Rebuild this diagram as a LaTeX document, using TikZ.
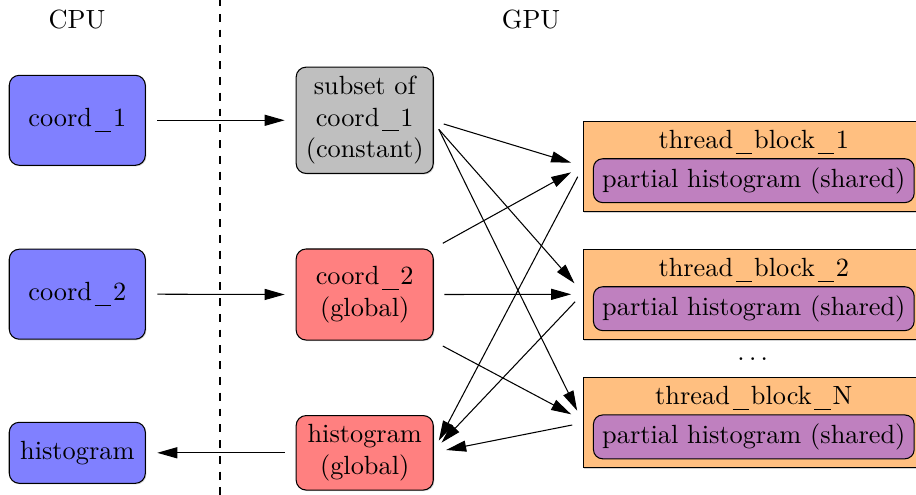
\documentclass[tikz,border=0pt]{standalone}
\usepackage{fontspec}
\usetikzlibrary{arrows.meta,calc,shadows}
\newcommand\us{\kern1pt\rule[-1.9pt]{6.3pt}{0.4pt}\kern0.7pt}
\begin{document}
\begin{tikzpicture}[x=0.38pt,y=-0.38pt,
  box/.style={draw, rounded corners=3.8pt, align=center, inner sep=3.33pt,
    drop shadow={shadow xshift=0.4pt, shadow yshift=-0.4pt, opacity=0.35}},
  cpubox/.style={box, fill=blue!50, minimum width=51.7pt},
  gpubox/.style={box, minimum width=52.1pt},
  tbbox/.style={draw, fill=orange!50, minimum width=129.6pt, minimum height=34.2pt,
    drop shadow={shadow xshift=0.4pt, shadow yshift=-0.5pt, opacity=0.35}},
  shbox/.style={draw, fill=violet!50, rounded corners=3.5pt, inner sep=3.33pt},
  conn/.style={-{Triangle[length=7.6pt,width=4.2pt]}},
  lbl/.style={inner sep=0pt}
]
\useasboundingbox (0,0) rectangle (916,494);

% headings and separator
\node[lbl] (cpu) at (77,19.5) {CPU};
\node[lbl] (gpu) at (531,19.5) {GPU};
\coordinate (dtop) at (220,-2);
\coordinate (dbot) at (220,496);
\draw[dashed] (dtop) -- (dbot);

% CPU side
\node[cpubox, minimum height=34.2pt] (c1) at (77.3,120.3) {coord\us1};
\node[cpubox, minimum height=34.2pt] (c2) at (77.3,294.2) {coord\us2};
\node[cpubox, minimum height=23.2pt] (c3) at (77.3,452.8) {histogram};

% GPU memory
\node[gpubox, fill=black!25, minimum height=40.4pt] (g1) at (364.7,120.3) {subset of\\coord\us1\\(constant)};
\node[gpubox, fill=red!50, minimum height=34.6pt] (g2) at (364.7,294.5) {coord\us2\\(global)};
\node[gpubox, fill=red!50, minimum height=28.3pt] (g3) at (364.7,452.8) {histogram\\(global)};

% thread blocks
\node[tbbox] (t1) at (753.8,166.3) {};
\node[lbl, anchor=base] (t1t) at ($(t1.north)+(0,28)$) {thread\us block\us1};
\node[shbox, anchor=south] (p1) at ($(t1.south)+(0,-8.7)$) {partial histogram (shared)};

\node[tbbox] (t2) at (753.8,294.3) {};
\node[lbl, anchor=base] (t2t) at ($(t2.north)+(0,28)$) {thread\us block\us2};
\node[shbox, anchor=south] (p2) at ($(t2.south)+(0,-8.7)$) {partial histogram (shared)};

\node[lbl, anchor=base] (dots) at (752.7,360.5) {$\dots$};

\node[tbbox] (tN) at (753.8,422.5) {};
\node[lbl, anchor=base] (tNt) at ($(tN.north)+(0,28)$) {thread\us block\us N};
\node[shbox, anchor=south] (pN) at ($(tN.south)+(0,-8.7)$) {partial histogram (shared)};

% transfers
\draw[conn] ($(c1.east)+(11.4,0)$) -- ($(g1.west)+(-11,0)$);
\draw[conn] ($(c2.east)+(11.4,0)$) -- ($(g2.west)+(-11,0)$);
\draw[conn] ($(g3.west)+(-11,0)$) -- ($(c3.east)+(11.4,0)$);

% reads
\draw[conn] ($(g1.east)+(10,3.7)$) -- ($(t1.west)+(-11.6,-3.6)$);
\draw[conn] ($(g1.east)+(5,9)$) -- ($(t2.west)+(-8.3,-11)$);
\draw[conn] ($(g1.east)+(5,9)$) -- ($(tN.west)+(-5.6,-11.8)$);
\draw[conn] ($(g2.east)+(9,-51.2)$) -- ($(t1.west)+(-11.6,6)$);
\draw[conn] ($(g2.east)+(10.7,0)$) -- ($(t2.west)+(-11.6,0)$);
\draw[conn] ($(g2.east)+(9,51.5)$) -- ($(tN.west)+(-11.6,-8.2)$);

% writes
\draw[conn] ($(t1.west)+(-5,10.4)$) -- ($(g3.east)+(5,-12.1)$);
\draw[conn] ($(t2.west)+(-7.6,7.4)$) -- ($(g3.east)+(7.7,-10.1)$);
\draw[conn] ($(tN.west)+(-10.6,2.5)$) -- ($(g3.east)+(12.4,-2.8)$);
\end{tikzpicture}
\end{document}
